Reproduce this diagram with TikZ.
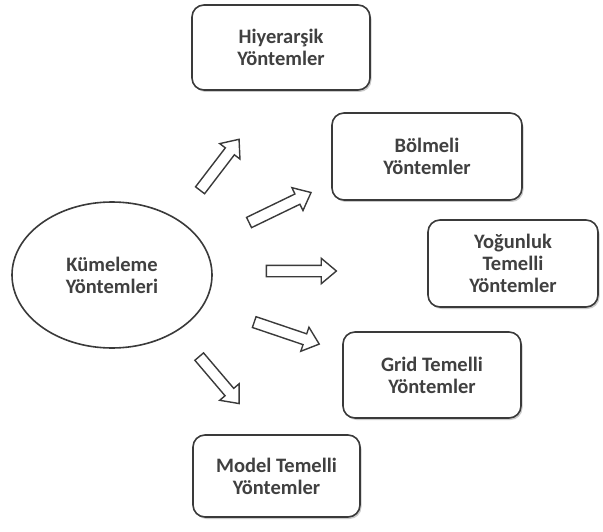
\documentclass[tikz,border=0pt]{standalone}
\usepackage{fontspec}
\setmainfont{Carlito}
\usetikzlibrary{shapes.arrows,shapes.geometric,shadows,calc}

\definecolor{inkgray}{HTML}{3A3A3A}
\definecolor{textgray}{HTML}{404040}

\tikzset{
  x=1pt, y=-1pt,
  every node/.style={font=\fontsize{20.5}{22}\selectfont\bfseries, text=textgray, align=center},
  methodbox/.style={draw=inkgray, line width=1.6pt, rounded corners=12pt, fill=white,
    drop shadow={shadow xshift=1.5pt, shadow yshift=-2pt, opacity=0.35, fill=black!60}},
  hubellipse/.style={ellipse, draw=inkgray, line width=1.6pt, fill=white, inner sep=0pt},
  bigarrow/.style={single arrow, draw=inkgray, line width=1.4pt, fill=white,
    inner xsep=0pt, inner ysep=5pt, single arrow head extend=7pt,
    single arrow tip angle=80, anchor=center},
}

% block arrow between two named points
\newcommand\blockarrow[2]{%
  \path let \p1=($(#2)-(#1)$), \n1={atan2(\y1,\x1)}, \n2={veclen(\x1,\y1)} in
    node[bigarrow, minimum height=\n2, rotate=\n1] at ($(#1)!0.5!(#2)$) {};
}

\begin{document}
\begin{tikzpicture}
\useasboundingbox (0,0) rectangle (603,532);

\node[hubellipse, minimum width=200pt, minimum height=146pt] (hub) at (112,275)
  {Kümeleme\\Yöntemleri};

\node[methodbox, minimum width=178pt, minimum height=85pt] (hier) at (281,47.5)
  {Hiyerarşik\\Yöntemler};
\node[methodbox, minimum width=190pt, minimum height=87pt] (bolm) at (427,156.5)
  {Bölmeli\\Yöntemler};
\node[methodbox, minimum width=170pt, minimum height=87pt] (yog) at (513,263.5)
  {Yoğunluk\\Temelli\\Yöntemler};
\node[methodbox, minimum width=178pt, minimum height=86pt] (grid) at (432,375)
  {Grid Temelli\\Yöntemler};
\node[methodbox, minimum width=167pt, minimum height=82pt] (model) at (276.5,476)
  {Model Temelli\\Yöntemler};

% arrow tails and tips
\coordinate (t1) at (198,193); \coordinate (h1) at (237,142);
\coordinate (t2) at (246,224); \coordinate (h2) at (308,194);
\coordinate (t3) at (263,271); \coordinate (h3) at (333,271);
\coordinate (t4) at (251,321); \coordinate (h4) at (316,343);
\coordinate (t5) at (197,354); \coordinate (h5) at (237,401);

\blockarrow{t1}{h1}
\blockarrow{t2}{h2}
\blockarrow{t3}{h3}
\blockarrow{t4}{h4}
\blockarrow{t5}{h5}
\end{tikzpicture}
\end{document}
